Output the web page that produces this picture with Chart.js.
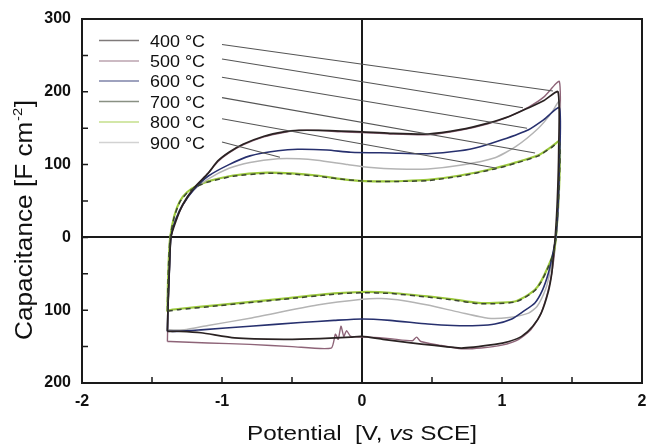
<!DOCTYPE html>
<html>
<head>
<meta charset="utf-8">
<script src="https://cdn.jsdelivr.net/npm/chart.js@4.4.1/dist/chart.umd.min.js"></script>
<style>
  html, body { margin: 0; padding: 0; background: #fff; }
  #wrap { width: 646px; height: 446px; }
</style>
</head>
<body>
<div id="wrap"><canvas id="chart" width="646" height="446"></canvas></div>
<script>
// legend labels
const temps = ['400 °C', '500 °C', '600 °C', '700 °C', '800 °C', '900 °C'];

// axis ticks
const xTickValues = [-2, -1, 0, 1, 2];
const xMinorValues = [-1.5, -0.5, 0.5, 1.5];
const yTickValues = [-200, -100, 0, 100, 200, 300];
const yMinorValues = [-150, -50, 50, 150, 250];

// CV loops: anodic branch (left -> right), then cathodic branch (right -> left)
const pot400 = [-1.39, -1.385, -1.375, -1.365, -1.33, -1.28, -1.2, -1.1, -1.03, -0.95, -0.85, -0.7, -0.56, -0.45, -0.31, -0.15, 0, 0.2, 0.47, 0.7, 0.9, 1.05, 1.19, 1.3, 1.4,
                1.405, 1.395, 1.38, 1.365, 1.355, 1.33, 1.28, 1.22, 1.14, 1.05, 0.95, 0.71, 0.5, 0.35, 0.15, 0, -0.08, -0.3, -0.56, -0.91, -1.15, -1.3, -1.37, -1.39];
const cap400 = [-129, -90, -40, 0, 22, 45, 68, 88, 105, 117, 128, 139, 145, 147, 147, 146, 145, 143, 142, 148, 157, 166, 178, 188, 200,
                120, 50, 0, -30, -50, -75, -104, -122, -136, -143, -147, -152, -148, -145, -140, -136, -137, -139, -140, -138, -131, -129, -129, -129];

const pot500 = [-1.39, -1.385, -1.375, -1.365, -1.335, -1.28, -1.2, -1.1, -1.03, -0.95, -0.85, -0.7, -0.56, -0.45, -0.31, -0.15, 0, 0.2, 0.47, 0.7, 0.9, 1.05, 1.19, 1.3, 1.41,
                1.41, 1.4, 1.385, 1.37, 1.35, 1.32, 1.27, 1.2, 1.12, 1.0, 0.85, 0.71, 0.55, 0.42, 0.39, 0.36, 0.2, 0.05, -0.08, -0.11, -0.13, -0.15, -0.17, -0.19, -0.22, -0.5, -0.8, -1.1, -1.37, -1.39];
const cap500 = [-143, -95, -40, 0, 22, 44, 67, 88, 104, 116, 127, 138, 144, 147, 147, 145, 144, 142, 141, 147, 156, 166, 179, 193, 214,
                120, 50, 0, -30, -55, -80, -108, -128, -140, -148, -152, -153, -148, -143, -137, -142, -139, -137, -136, -128, -136, -122, -140, -133, -152, -150, -147, -145, -143, -143];

const pot600 = [-1.39, -1.385, -1.375, -1.365, -1.33, -1.28, -1.2, -1.1, -0.95, -0.8, -0.6, -0.46, -0.25, -0.08, 0.2, 0.47, 0.7, 0.85, 1.0, 1.19, 1.3, 1.41,
                1.41, 1.4, 1.385, 1.36, 1.33, 1.29, 1.235, 1.15, 1.07, 0.95, 0.83, 0.65, 0.47, 0.2, 0, -0.2, -0.44, -0.8, -1.15, -1.3, -1.37, -1.39];
const cap600 = [-129, -90, -40, 0, 25, 45, 66, 84, 100, 112, 119, 121, 120, 117, 116, 115, 119, 125, 134, 148, 162, 178,
                100, 40, 0, -25, -50, -72, -90, -102, -112, -119, -121, -121, -119, -114, -112, -114, -117, -122, -127, -129, -129, -129];

const pot700 = [-1.39, -1.387, -1.38, -1.37, -1.34, -1.3, -1.25, -1.18, -1.1, -0.92, -0.68, -0.5, -0.32, -0.1, 0.065, 0.3, 0.47, 0.7, 0.95, 1.1, 1.26, 1.35, 1.41,
                1.41, 1.4, 1.385, 1.37, 1.33, 1.28, 1.235, 1.16, 1.09, 0.95, 0.83, 0.65, 0.47, 0.2, 0, -0.2, -0.56, -1.03, -1.3, -1.38, -1.39];
const cap700 = [-101, -70, -30, 0, 29, 49, 61, 70, 76, 84, 88, 87, 84, 79, 77, 77, 78, 84, 94, 102, 112, 123, 131,
                80, 40, 0, -20, -41, -61, -73, -83, -89, -91, -91, -86, -82, -77, -76, -78, -85, -94, -99, -101, -101];

const pot800 = [-1.39, -1.387, -1.38, -1.37, -1.34, -1.3, -1.25, -1.18, -1.1, -0.92, -0.68, -0.5, -0.32, -0.1, 0.065, 0.3, 0.47, 0.7, 0.95, 1.1, 1.26, 1.35, 1.41,
                1.41, 1.4, 1.385, 1.37, 1.33, 1.28, 1.235, 1.16, 1.09, 0.95, 0.83, 0.65, 0.47, 0.2, 0, -0.2, -0.56, -1.03, -1.3, -1.38, -1.39];
const cap800 = [-102, -70, -30, 0, 30, 50, 62, 71, 77, 85, 89, 88, 85, 79, 77, 77.5, 79, 85, 95, 103, 113, 124, 132,
                80, 40, 0, -20, -40, -60, -72, -82, -88, -90, -90, -85, -81, -76, -75, -77, -84, -93, -98, -100, -102];

const pot900 = [-1.39, -1.385, -1.375, -1.365, -1.33, -1.28, -1.22, -1.1, -0.95, -0.8, -0.6, -0.45, -0.32, -0.1, 0.065, 0.25, 0.47, 0.7, 0.95, 1.1, 1.26, 1.35, 1.41,
                1.41, 1.4, 1.37, 1.34, 1.31, 1.25, 1.19, 1.05, 0.9, 0.7, 0.47, 0.3, 0.136, 0, -0.32, -0.8, -1.1, -1.27, -1.37, -1.39];
const cap900 = [-127, -90, -40, 0, 25, 46, 62, 80, 95, 103, 108, 108, 106, 100, 96, 94, 94, 99, 109.5, 125, 150, 170, 187,
                100, 30, -18, -50, -72, -95, -104, -110, -111, -103, -93, -87, -84, -85, -93, -111, -121, -127, -127, -127];

// leader lines from the legend labels to the curves (data units)
const leadStartX = [-1.0, -1.0, -1.0, -1.0, -1.0, -1.0];
const leadStartY = [265, 245, 220, 192, 163, 131];
const leadEndX = [1.364, 1.15, 1.179, 1.236, 0.964, -0.586];
const leadEndY = [201, 178, 150, 116, 95, 110];

const FONT = "'Liberation Sans', Arial, sans-serif";

function toPoints(xs, ys) {
    return xs.map((v, i) => ({ x: v, y: ys[i] }));
}

const curves = [
    { label: temps[0], data: toPoints(pot400, cap400), color: '#2a2222', width: 1.7 },
    { label: temps[1], data: toPoints(pot500, cap500), color: '#8e6478', width: 1.4 },
    { label: temps[2], data: toPoints(pot600, cap600), color: '#27306e', width: 1.6 },
    { label: temps[3], data: toPoints(pot700, cap700), color: '#3b4630', width: 1.5, dash: [5, 4] },
    { label: temps[4], data: toPoints(pot800, cap800), color: '#9cc93c', width: 2.2 },
    { label: temps[5], data: toPoints(pot900, cap900), color: '#b4b4b4', width: 1.5 }
];

const leaderSets = leadStartX.map((sx, i) => ({
    label: 'lead ' + temps[i],
    data: [{ x: sx, y: leadStartY[i] }, { x: leadEndX[i], y: leadEndY[i] }],
    borderColor: '#555555',
    borderWidth: 1.1,
    showLine: true,
    pointRadius: 0,
    tension: 0
}));

// first dataset is drawn on top
const drawOrder = [3, 0, 2, 5, 4, 1];
const curveSets = drawOrder.map(i => ({
    label: curves[i].label,
    data: curves[i].data,
    borderColor: curves[i].color,
    borderWidth: curves[i].width,
    borderDash: curves[i].dash || [],
    showLine: true,
    pointRadius: 0,
    tension: 0.2
}));

const decor = {
    id: 'decor',
    afterDraw(chart) {
        const { ctx, chartArea: a, scales: { x, y } } = chart;
        ctx.save();

        // frame
        ctx.strokeStyle = '#1a1a1a';
        ctx.lineWidth = 2;
        ctx.strokeRect(a.left, a.top, a.right - a.left, a.bottom - a.top);

        // inward tick marks
        ctx.lineWidth = 1.5;
        ctx.beginPath();
        [...xTickValues, ...xMinorValues].forEach(v => {
            const px = x.getPixelForValue(v);
            if (px <= a.left + 1 || px >= a.right - 1) return;
            ctx.moveTo(px, a.bottom);
            ctx.lineTo(px, a.bottom - 6);
        });
        [...yTickValues, ...yMinorValues].forEach(v => {
            const py = y.getPixelForValue(v);
            if (py <= a.top + 1 || py >= a.bottom - 1) return;
            ctx.moveTo(a.left, py);
            ctx.lineTo(a.left + 6, py);
        });
        ctx.stroke();

        // legend
        const rows = [40.5, 61, 81, 101.5, 122, 142.5];
        ctx.font = '17px ' + FONT;
        const k = 55 / ctx.measureText(temps[0]).width;
        temps.forEach((t, i) => {
            ctx.globalAlpha = 0.6;
            ctx.strokeStyle = curves[i].color;
            ctx.lineWidth = 1.3;
            ctx.beginPath();
            ctx.moveTo(99, rows[i]);
            ctx.lineTo(139, rows[i]);
            ctx.stroke();
            ctx.globalAlpha = 1;
            ctx.save();
            ctx.translate(150, rows[i] + 6);
            ctx.scale(k, 1);
            ctx.fillStyle = '#111';
            ctx.textBaseline = 'alphabetic';
            ctx.fillText(t, 0, 0);
            ctx.restore();
        });

        // x title with italic "vs"
        const parts = [['Potential  [V, ', ''], ['vs', 'italic '], [' SCE]', '']];
        let total = 0;
        parts.forEach(p => { ctx.font = p[1] + '21px ' + FONT; total += ctx.measureText(p[0]).width; });
        ctx.save();
        ctx.translate(247, 440);
        ctx.scale(230 / total, 1);
        ctx.fillStyle = '#111';
        let cx = 0;
        parts.forEach(p => {
            ctx.font = p[1] + '21px ' + FONT;
            ctx.fillText(p[0], cx, 0);
            cx += ctx.measureText(p[0]).width;
        });
        ctx.restore();

        // y title with superscript
        ctx.save();
        ctx.translate(32, 340);
        ctx.rotate(-Math.PI / 2);
        const main = 'Capacitance [F cm';
        ctx.font = '23px ' + FONT;
        const w1 = ctx.measureText(main).width;
        const w3 = ctx.measureText(']').width;
        ctx.font = '13px ' + FONT;
        const w2 = ctx.measureText('-2').width + 1;
        ctx.scale(240 / (w1 + w2 + w3), 1);
        ctx.fillStyle = '#111';
        ctx.font = '23px ' + FONT;
        ctx.fillText(main, 0, 0);
        ctx.font = '13px ' + FONT;
        ctx.fillText('-2', w1 + 0.5, -10);
        ctx.font = '23px ' + FONT;
        ctx.fillText(']', w1 + w2, 0);
        ctx.restore();

        ctx.restore();
    }
};

const tickFont = { family: FONT, size: 16, weight: 'bold' };
const zeroLine = c => (c.tick && c.tick.value === 0) ? '#1a1a1a' : 'rgba(0,0,0,0)';

new Chart(document.getElementById('chart'), {
    type: 'scatter',
    data: { datasets: [...leaderSets, ...curveSets] },
    options: {
        responsive: false,
        animation: false,
        devicePixelRatio: 1,
        layout: { padding: { top: 19, right: 4, left: 0, bottom: 0 } },
        plugins: { legend: { display: false }, tooltip: { enabled: false } },
        scales: {
            x: {
                type: 'linear',
                min: -2,
                max: 2,
                afterBuildTicks: s => { s.ticks = xTickValues.map(v => ({ value: v })); },
                afterFit: s => { s.height = 63; s.paddingLeft = 0; s.paddingRight = 0; },
                ticks: { font: tickFont, color: '#111', padding: 9 },
                grid: { drawTicks: false, color: zeroLine, lineWidth: 2 },
                border: { display: true, color: '#1a1a1a', width: 2 }
            },
            y: {
                type: 'linear',
                min: -200,
                max: 300,
                afterBuildTicks: s => { s.ticks = yTickValues.map(v => ({ value: v })); },
                afterFit: s => { s.width = 82; s.paddingTop = 0; s.paddingBottom = 0; },
                ticks: { font: tickFont, color: '#111', padding: 11, callback: v => Math.abs(v) },
                grid: { drawTicks: false, color: zeroLine, lineWidth: 2 },
                border: { display: true, color: '#1a1a1a', width: 2 }
            }
        }
    },
    plugins: [decor]
});
</script>
</body>
</html>
